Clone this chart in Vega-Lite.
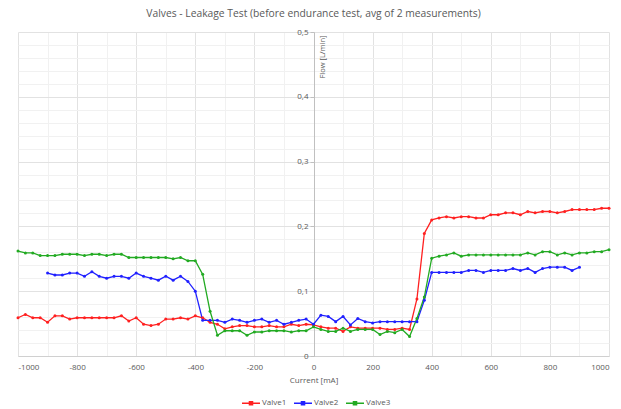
{
  "$schema": "https://vega.github.io/schema/vega-lite/v6.json",
  "width": 591,
  "height": 324,
  "autosize": "none",
  "padding": {"left": 18, "top": 32, "right": 12, "bottom": 53},
  "title": {"text": "Valves - Leakage Test (before endurance test, avg of 2 measurements)", "fontSize": 10.3, "font": "Open Sans", "fontWeight": "normal", "color": "#595959", "offset": 9},
  "datasets": {
    "valves": [
      {"c": -1000, "v": 0.059, "s": "Valve1"}, {"c": -975, "v": 0.064, "s": "Valve1"}, {"c": -950, "v": 0.059, "s": "Valve1"}, {"c": -925, "v": 0.059, "s": "Valve1"}, {"c": -900, "v": 0.052, "s": "Valve1"}, {"c": -875, "v": 0.062, "s": "Valve1"}, {"c": -850, "v": 0.062, "s": "Valve1"}, {"c": -825, "v": 0.057, "s": "Valve1"}, {"c": -800, "v": 0.059, "s": "Valve1"}, {"c": -775, "v": 0.059, "s": "Valve1"}, {"c": -750, "v": 0.059, "s": "Valve1"}, {"c": -725, "v": 0.059, "s": "Valve1"}, {"c": -700, "v": 0.059, "s": "Valve1"}, {"c": -675, "v": 0.059, "s": "Valve1"}, {"c": -650, "v": 0.062, "s": "Valve1"}, {"c": -625, "v": 0.054, "s": "Valve1"}, {"c": -600, "v": 0.059, "s": "Valve1"}, {"c": -575, "v": 0.049, "s": "Valve1"}, {"c": -550, "v": 0.047, "s": "Valve1"}, {"c": -525, "v": 0.049, "s": "Valve1"}, {"c": -500, "v": 0.057, "s": "Valve1"}, {"c": -475, "v": 0.057, "s": "Valve1"}, {"c": -450, "v": 0.059, "s": "Valve1"}, {"c": -425, "v": 0.057, "s": "Valve1"}, {"c": -400, "v": 0.062, "s": "Valve1"}, {"c": -375, "v": 0.059, "s": "Valve1"}, {"c": -350, "v": 0.052, "s": "Valve1"}, {"c": -325, "v": 0.049, "s": "Valve1"}, {"c": -300, "v": 0.042, "s": "Valve1"}, {"c": -275, "v": 0.045, "s": "Valve1"}, {"c": -250, "v": 0.047, "s": "Valve1"}, {"c": -225, "v": 0.047, "s": "Valve1"}, {"c": -200, "v": 0.045, "s": "Valve1"}, {"c": -175, "v": 0.045, "s": "Valve1"}, {"c": -150, "v": 0.047, "s": "Valve1"}, {"c": -125, "v": 0.045, "s": "Valve1"}, {"c": -100, "v": 0.045, "s": "Valve1"}, {"c": -75, "v": 0.049, "s": "Valve1"}, {"c": -50, "v": 0.047, "s": "Valve1"}, {"c": -25, "v": 0.049, "s": "Valve1"}, {"c": 0, "v": 0.048, "s": "Valve1"}, {"c": 25, "v": 0.045, "s": "Valve1"}, {"c": 50, "v": 0.043, "s": "Valve1"}, {"c": 75, "v": 0.043, "s": "Valve1"}, {"c": 100, "v": 0.038, "s": "Valve1"}, {"c": 125, "v": 0.045, "s": "Valve1"}, {"c": 150, "v": 0.043, "s": "Valve1"}, {"c": 175, "v": 0.043, "s": "Valve1"}, {"c": 200, "v": 0.043, "s": "Valve1"}, {"c": 225, "v": 0.043, "s": "Valve1"}, {"c": 250, "v": 0.041, "s": "Valve1"}, {"c": 275, "v": 0.041, "s": "Valve1"}, {"c": 300, "v": 0.043, "s": "Valve1"}, {"c": 325, "v": 0.041, "s": "Valve1"}, {"c": 350, "v": 0.088, "s": "Valve1"}, {"c": 375, "v": 0.189, "s": "Valve1"}, {"c": 400, "v": 0.21, "s": "Valve1"}, {"c": 425, "v": 0.213, "s": "Valve1"}, {"c": 450, "v": 0.215, "s": "Valve1"}, {"c": 475, "v": 0.213, "s": "Valve1"}, {"c": 500, "v": 0.215, "s": "Valve1"}, {"c": 525, "v": 0.215, "s": "Valve1"}, {"c": 550, "v": 0.213, "s": "Valve1"}, {"c": 575, "v": 0.213, "s": "Valve1"}, {"c": 600, "v": 0.218, "s": "Valve1"}, {"c": 625, "v": 0.218, "s": "Valve1"}, {"c": 650, "v": 0.221, "s": "Valve1"}, {"c": 675, "v": 0.221, "s": "Valve1"}, {"c": 700, "v": 0.218, "s": "Valve1"}, {"c": 725, "v": 0.223, "s": "Valve1"}, {"c": 750, "v": 0.221, "s": "Valve1"}, {"c": 775, "v": 0.223, "s": "Valve1"}, {"c": 800, "v": 0.223, "s": "Valve1"}, {"c": 825, "v": 0.221, "s": "Valve1"}, {"c": 850, "v": 0.223, "s": "Valve1"}, {"c": 875, "v": 0.226, "s": "Valve1"}, {"c": 900, "v": 0.226, "s": "Valve1"}, {"c": 925, "v": 0.226, "s": "Valve1"}, {"c": 950, "v": 0.226, "s": "Valve1"}, {"c": 975, "v": 0.228, "s": "Valve1"}, {"c": 1000, "v": 0.228, "s": "Valve1"},
      {"c": -900, "v": 0.128, "s": "Valve2"}, {"c": -875, "v": 0.125, "s": "Valve2"}, {"c": -850, "v": 0.125, "s": "Valve2"}, {"c": -825, "v": 0.128, "s": "Valve2"}, {"c": -800, "v": 0.128, "s": "Valve2"}, {"c": -775, "v": 0.123, "s": "Valve2"}, {"c": -750, "v": 0.13, "s": "Valve2"}, {"c": -725, "v": 0.123, "s": "Valve2"}, {"c": -700, "v": 0.12, "s": "Valve2"}, {"c": -675, "v": 0.123, "s": "Valve2"}, {"c": -650, "v": 0.123, "s": "Valve2"}, {"c": -625, "v": 0.12, "s": "Valve2"}, {"c": -600, "v": 0.128, "s": "Valve2"}, {"c": -575, "v": 0.123, "s": "Valve2"}, {"c": -550, "v": 0.12, "s": "Valve2"}, {"c": -525, "v": 0.117, "s": "Valve2"}, {"c": -500, "v": 0.123, "s": "Valve2"}, {"c": -475, "v": 0.117, "s": "Valve2"}, {"c": -450, "v": 0.123, "s": "Valve2"}, {"c": -425, "v": 0.115, "s": "Valve2"}, {"c": -400, "v": 0.1, "s": "Valve2"}, {"c": -375, "v": 0.055, "s": "Valve2"}, {"c": -350, "v": 0.055, "s": "Valve2"}, {"c": -325, "v": 0.055, "s": "Valve2"}, {"c": -300, "v": 0.052, "s": "Valve2"}, {"c": -275, "v": 0.057, "s": "Valve2"}, {"c": -250, "v": 0.055, "s": "Valve2"}, {"c": -225, "v": 0.052, "s": "Valve2"}, {"c": -200, "v": 0.055, "s": "Valve2"}, {"c": -175, "v": 0.057, "s": "Valve2"}, {"c": -150, "v": 0.052, "s": "Valve2"}, {"c": -125, "v": 0.055, "s": "Valve2"}, {"c": -100, "v": 0.049, "s": "Valve2"}, {"c": -75, "v": 0.052, "s": "Valve2"}, {"c": -50, "v": 0.055, "s": "Valve2"}, {"c": -25, "v": 0.057, "s": "Valve2"}, {"c": 0, "v": 0.049, "s": "Valve2"}, {"c": 25, "v": 0.063, "s": "Valve2"}, {"c": 50, "v": 0.061, "s": "Valve2"}, {"c": 75, "v": 0.053, "s": "Valve2"}, {"c": 100, "v": 0.061, "s": "Valve2"}, {"c": 125, "v": 0.048, "s": "Valve2"}, {"c": 150, "v": 0.058, "s": "Valve2"}, {"c": 175, "v": 0.053, "s": "Valve2"}, {"c": 200, "v": 0.051, "s": "Valve2"}, {"c": 225, "v": 0.053, "s": "Valve2"}, {"c": 250, "v": 0.053, "s": "Valve2"}, {"c": 275, "v": 0.053, "s": "Valve2"}, {"c": 300, "v": 0.053, "s": "Valve2"}, {"c": 325, "v": 0.053, "s": "Valve2"}, {"c": 350, "v": 0.053, "s": "Valve2"}, {"c": 375, "v": 0.086, "s": "Valve2"}, {"c": 400, "v": 0.129, "s": "Valve2"}, {"c": 425, "v": 0.129, "s": "Valve2"}, {"c": 450, "v": 0.129, "s": "Valve2"}, {"c": 475, "v": 0.129, "s": "Valve2"}, {"c": 500, "v": 0.129, "s": "Valve2"}, {"c": 525, "v": 0.132, "s": "Valve2"}, {"c": 550, "v": 0.132, "s": "Valve2"}, {"c": 575, "v": 0.129, "s": "Valve2"}, {"c": 600, "v": 0.132, "s": "Valve2"}, {"c": 625, "v": 0.132, "s": "Valve2"}, {"c": 650, "v": 0.132, "s": "Valve2"}, {"c": 675, "v": 0.135, "s": "Valve2"}, {"c": 700, "v": 0.132, "s": "Valve2"}, {"c": 725, "v": 0.135, "s": "Valve2"}, {"c": 750, "v": 0.129, "s": "Valve2"}, {"c": 775, "v": 0.135, "s": "Valve2"}, {"c": 800, "v": 0.137, "s": "Valve2"}, {"c": 825, "v": 0.137, "s": "Valve2"}, {"c": 850, "v": 0.137, "s": "Valve2"}, {"c": 875, "v": 0.132, "s": "Valve2"}, {"c": 900, "v": 0.137, "s": "Valve2"},
      {"c": -1000, "v": 0.162, "s": "Valve3"}, {"c": -975, "v": 0.159, "s": "Valve3"}, {"c": -950, "v": 0.159, "s": "Valve3"}, {"c": -925, "v": 0.155, "s": "Valve3"}, {"c": -900, "v": 0.155, "s": "Valve3"}, {"c": -875, "v": 0.155, "s": "Valve3"}, {"c": -850, "v": 0.157, "s": "Valve3"}, {"c": -825, "v": 0.157, "s": "Valve3"}, {"c": -800, "v": 0.157, "s": "Valve3"}, {"c": -775, "v": 0.155, "s": "Valve3"}, {"c": -750, "v": 0.157, "s": "Valve3"}, {"c": -725, "v": 0.157, "s": "Valve3"}, {"c": -700, "v": 0.155, "s": "Valve3"}, {"c": -675, "v": 0.157, "s": "Valve3"}, {"c": -650, "v": 0.157, "s": "Valve3"}, {"c": -625, "v": 0.152, "s": "Valve3"}, {"c": -600, "v": 0.152, "s": "Valve3"}, {"c": -575, "v": 0.152, "s": "Valve3"}, {"c": -550, "v": 0.152, "s": "Valve3"}, {"c": -525, "v": 0.152, "s": "Valve3"}, {"c": -500, "v": 0.152, "s": "Valve3"}, {"c": -475, "v": 0.15, "s": "Valve3"}, {"c": -450, "v": 0.152, "s": "Valve3"}, {"c": -425, "v": 0.147, "s": "Valve3"}, {"c": -400, "v": 0.147, "s": "Valve3"}, {"c": -375, "v": 0.126, "s": "Valve3"}, {"c": -350, "v": 0.069, "s": "Valve3"}, {"c": -325, "v": 0.032, "s": "Valve3"}, {"c": -300, "v": 0.039, "s": "Valve3"}, {"c": -275, "v": 0.039, "s": "Valve3"}, {"c": -250, "v": 0.039, "s": "Valve3"}, {"c": -225, "v": 0.032, "s": "Valve3"}, {"c": -200, "v": 0.037, "s": "Valve3"}, {"c": -175, "v": 0.037, "s": "Valve3"}, {"c": -150, "v": 0.039, "s": "Valve3"}, {"c": -125, "v": 0.039, "s": "Valve3"}, {"c": -100, "v": 0.039, "s": "Valve3"}, {"c": -75, "v": 0.037, "s": "Valve3"}, {"c": -50, "v": 0.039, "s": "Valve3"}, {"c": -25, "v": 0.039, "s": "Valve3"}, {"c": 0, "v": 0.045, "s": "Valve3"}, {"c": 25, "v": 0.041, "s": "Valve3"}, {"c": 50, "v": 0.038, "s": "Valve3"}, {"c": 75, "v": 0.038, "s": "Valve3"}, {"c": 100, "v": 0.043, "s": "Valve3"}, {"c": 125, "v": 0.038, "s": "Valve3"}, {"c": 150, "v": 0.041, "s": "Valve3"}, {"c": 175, "v": 0.041, "s": "Valve3"}, {"c": 200, "v": 0.041, "s": "Valve3"}, {"c": 225, "v": 0.033, "s": "Valve3"}, {"c": 250, "v": 0.038, "s": "Valve3"}, {"c": 275, "v": 0.036, "s": "Valve3"}, {"c": 300, "v": 0.041, "s": "Valve3"}, {"c": 325, "v": 0.03, "s": "Valve3"}, {"c": 350, "v": 0.058, "s": "Valve3"}, {"c": 375, "v": 0.091, "s": "Valve3"}, {"c": 400, "v": 0.151, "s": "Valve3"}, {"c": 425, "v": 0.154, "s": "Valve3"}, {"c": 450, "v": 0.156, "s": "Valve3"}, {"c": 475, "v": 0.159, "s": "Valve3"}, {"c": 500, "v": 0.154, "s": "Valve3"}, {"c": 525, "v": 0.156, "s": "Valve3"}, {"c": 550, "v": 0.156, "s": "Valve3"}, {"c": 575, "v": 0.156, "s": "Valve3"}, {"c": 600, "v": 0.156, "s": "Valve3"}, {"c": 625, "v": 0.156, "s": "Valve3"}, {"c": 650, "v": 0.156, "s": "Valve3"}, {"c": 675, "v": 0.156, "s": "Valve3"}, {"c": 700, "v": 0.156, "s": "Valve3"}, {"c": 725, "v": 0.159, "s": "Valve3"}, {"c": 750, "v": 0.156, "s": "Valve3"}, {"c": 775, "v": 0.161, "s": "Valve3"}, {"c": 800, "v": 0.161, "s": "Valve3"}, {"c": 825, "v": 0.156, "s": "Valve3"}, {"c": 850, "v": 0.159, "s": "Valve3"}, {"c": 875, "v": 0.156, "s": "Valve3"}, {"c": 900, "v": 0.159, "s": "Valve3"}, {"c": 925, "v": 0.159, "s": "Valve3"}, {"c": 950, "v": 0.161, "s": "Valve3"}, {"c": 975, "v": 0.161, "s": "Valve3"}, {"c": 1000, "v": 0.164, "s": "Valve3"}
    ]
  },
  "data": {"name": "valves"},
  "encoding": {
    "color": {
      "field": "s", "type": "nominal",
      "scale": {"domain": ["Valve1", "Valve2", "Valve3"], "range": ["#ff2020", "#2020ff", "#22aa22"]},
      "legend": {"title": null, "orient": "none", "legendX": 223, "legendY": 361, "direction": "horizontal", "symbolType": "M-1,0H1M-0.17,-0.17H0.17V0.17H-0.17Z", "symbolSize": 324, "symbolStrokeWidth": 1.5, "labelFontSize": 8, "labelColor": "#595959", "columnPadding": 4, "labelOffset": 1, "padding": 0}
    }
  },
  "layer": [
    {
      "mark": {"type": "line", "strokeWidth": 1.3},
      "encoding": {
        "x": {"field": "c", "type": "quantitative", "scale": {"domain": [-1000, 1000], "nice": false},
          "axis": {"orient": "top", "values": [-900, -700, -500, -300, -100, 100, 300, 500, 700, 900], "grid": true, "gridColor": "#f1f1f1", "labels": false, "ticks": false, "domain": false, "title": null}},
        "y": {"field": "v", "type": "quantitative", "scale": {"domain": [0, 0.5], "nice": false},
          "axis": {"orient": "right", "values": [0.02, 0.04, 0.06, 0.08, 0.12, 0.14, 0.16, 0.18, 0.22, 0.24, 0.26, 0.28, 0.32, 0.34, 0.36, 0.38, 0.42, 0.44, 0.46, 0.48], "grid": true, "gridColor": "#f1f1f1", "labels": false, "ticks": false, "domain": false, "title": null}}
      }
    },
    {
      "mark": {"type": "point", "filled": true, "size": 9, "opacity": 1},
      "encoding": {
        "x": {"field": "c", "type": "quantitative", "scale": {"domain": [-1000, 1000], "nice": false},
          "axis": {"orient": "bottom", "values": [-1000, -800, -600, -400, -200, 0, 200, 400, 600, 800, 1000], "labelExpr": "datum.value < 0 ? '-' + abs(datum.value) : '' + datum.value", "grid": true, "gridColor": "#e2e2e2", "ticks": false, "domain": true, "domainColor": "#d0d0d0", "labelFontSize": 8, "labelColor": "#595959", "labelPadding": 7, "title": "Current [mA]", "titleFontSize": 8, "titleFontWeight": "normal", "titleColor": "#595959", "titlePadding": 5}},
        "y": {"field": "v", "type": "quantitative", "scale": {"domain": [0, 0.5], "nice": false},
          "axis": {"orient": "left", "offset": -296, "values": [0, 0.1, 0.2, 0.3, 0.4, 0.5], "labelExpr": "datum.value == 0 ? '0' : replace(format(datum.value, '.1f'), '.', ',')", "grid": true, "gridColor": "#e2e2e2", "ticks": true, "tickSize": 4, "tickColor": "#c0c0c0", "domain": true, "domainColor": "#c0c0c0", "labelFontSize": 8, "labelColor": "#595959", "labelPadding": 2, "title": "Flow [L/min]", "titleFontSize": 7.5, "titleFontWeight": "normal", "titleColor": "#595959", "titleAngle": -90, "titleAlign": "right", "titleBaseline": "top", "titleX": 4, "titleY": 3}}
      }
    }
  ],
  "resolve": {"axis": {"x": "independent", "y": "independent"}},
  "config": {"view": {"stroke": null}, "font": "Open Sans"}
}
